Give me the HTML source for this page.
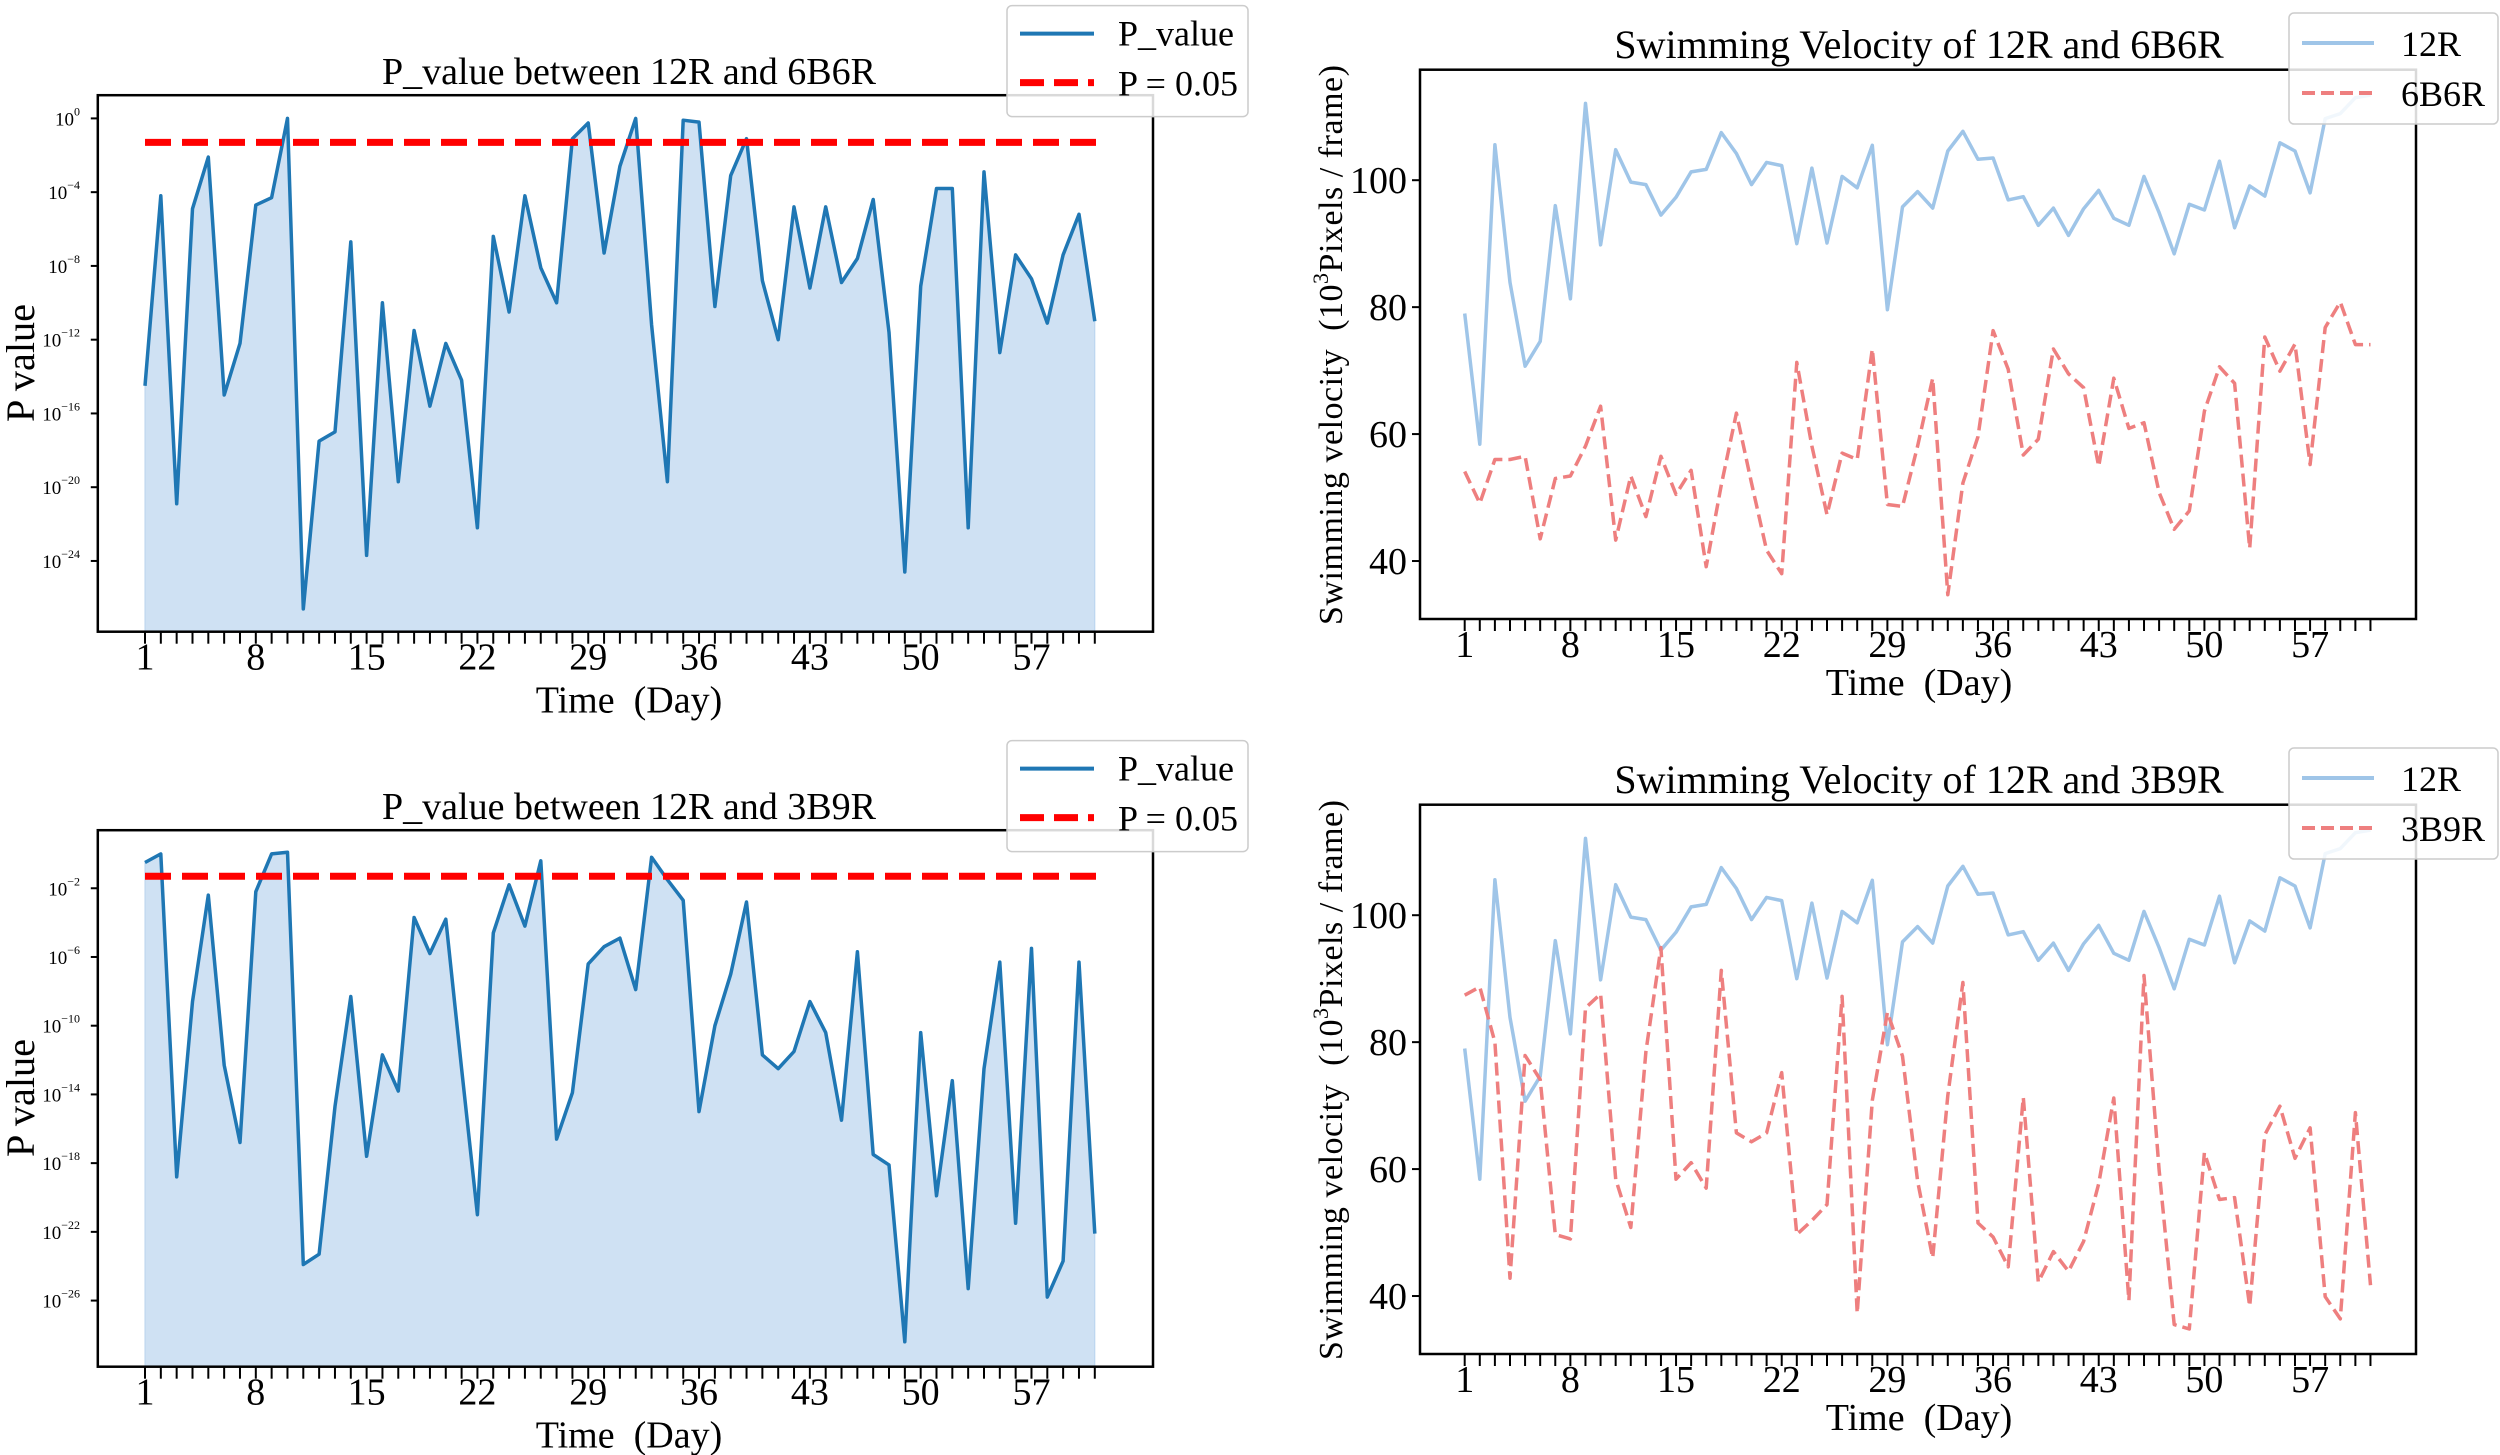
<!DOCTYPE html>
<html><head><meta charset="utf-8"><style>
html,body{margin:0;padding:0;background:#fff;}
svg{display:block;font-family:"Liberation Serif",serif;}
</style></head><body>
<svg id="s" width="2500" height="1455" viewBox="0 0 2500 1455" xmlns="http://www.w3.org/2000/svg"></svg>
<script>
const P1=[-14.5,-4.2,-20.9,-4.9,-2.1,-15,-12.2,-4.7,-4.3,0,-26.6,-17.5,-17,-6.7,-23.7,-10,-19.7,-11.5,-15.6,-12.2,-14.2,-22.2,-6.4,-10.5,-4.2,-8.1,-10,-1.1,-0.25,-7.3,-2.6,0,-11.2,-19.7,-0.1,-0.2,-10.2,-3.1,-1.1,-8.8,-12,-4.8,-9.2,-4.8,-8.9,-7.6,-4.4,-11.6,-24.6,-9.1,-3.8,-3.8,-22.2,-2.9,-12.7,-7.4,-8.7,-11.1,-7.4,-5.2,-11];
const P2=[-0.5,0,-18.8,-8.6,-2.4,-12.3,-16.8,-2.2,0,0.1,-23.9,-23.3,-14.7,-8.3,-17.6,-11.7,-13.8,-3.7,-5.8,-3.8,-12.5,-21,-4.6,-1.8,-4.2,-0.4,-16.6,-13.9,-6.4,-5.4,-4.9,-7.9,-0.2,-1.5,-2.7,-15,-10,-7,-2.8,-11.7,-12.5,-11.5,-8.6,-10.4,-15.5,-5.7,-17.5,-18.1,-28.4,-10.4,-19.9,-13.2,-25.3,-12.5,-6.3,-21.5,-5.5,-25.8,-23.7,-6.3,-22.1];
const R12=[79,58.4,105.6,83.9,70.7,74.6,96,81.3,112.1,89.8,104.8,99.7,99.3,94.5,97.3,101.3,101.7,107.5,104.2,99.3,102.8,102.3,90,101.9,90.1,100.6,98.8,105.5,79.6,95.8,98.2,95.6,104.6,107.7,103.3,103.5,96.9,97.4,92.9,95.6,91.3,95.5,98.4,94,92.9,100.6,94.9,88.4,96.2,95.3,103,92.5,99.1,97.5,105.9,104.6,98,109.7,110.5,113,113.4];
const B6=[54.1,49.1,56,56,56.5,43.5,53,53.4,58.1,64.4,43.3,53.4,47,56.5,50.5,54.3,39.1,52,63.3,52.3,41.7,38,71.3,58.1,47.3,57,56,73.4,48.9,48.6,58.1,68.8,34.7,52.3,59.6,76.3,70.2,56.7,59.2,73.4,69.5,67.3,54.9,68.8,60.9,61.8,50.8,45,47.9,63.6,70.6,68,42,75.3,69.9,74.2,55.2,76.8,80.8,74.1,74.1];
const B9=[87.4,88.7,80,42.8,77.9,74.1,49.7,49,85.4,87.6,58.4,50.8,78.5,94.9,58.4,61,57,91.3,65.7,64.3,65.7,75.2,49.7,51.9,54.4,87.2,37.3,70.8,84.7,77.8,58.1,46,71.6,89.4,51.5,49.3,44.6,71.3,42.2,47,43.9,48.6,57.7,71.2,39.3,90.5,59.9,35.5,34.8,62.6,55.2,55.5,38.4,65.4,69.9,61.7,66.5,39.9,36.4,68.9,41.7];
let h='';
function txt(x,y,s,size,anchor,extra){h+=`<text x="${x}" y="${y}" font-size="${size}" text-anchor="${anchor||'middle'}" ${extra||''}>${s}</text>`;}
function xaxis(x0,dx,yb,labY,xlY,xlabel){
  for(let d=1;d<=61;d++){const x=x0+(d-1)*dx;h+=`<line x1="${x}" y1="${yb}" x2="${x}" y2="${yb+12}" stroke="#000" stroke-width="2"/>`;}
  for(let d=1;d<=57;d+=7){txt(x0+(d-1)*dx,labY,d,38);}
  txt(xlabel[0],xlY,'Time&#160;&#160;(Day)',38);
}
function pPanel(oy,data,top0,dec,tickStart,title){
  const L=97.8,R=1153,T=95.2+oy,B=631.7+oy;const x0=145,dx=15.83;
  const X=d=>x0+d*dx, Y=e=>top0+(-e)*dec;
  let pts=data.map((e,i)=>X(i).toFixed(1)+','+Y(e).toFixed(1)).join(' ');
  h+=`<polygon points="${X(0)},${B} ${pts} ${X(60)},${B}" fill="#cfe1f3" stroke="#b8d3ee" stroke-width="1"/>`;
  h+=`<polyline points="${pts}" fill="none" stroke="#1f77b4" stroke-width="3.5" stroke-linejoin="round"/>`;
  const yd=Y(-1.3);
  h+=`<line x1="145" y1="${yd}" x2="1106" y2="${yd}" stroke="#ff0000" stroke-width="7" stroke-dasharray="26,11"/>`;
  h+=`<rect x="${L}" y="${T}" width="${R-L}" height="${B-T}" fill="none" stroke="#000" stroke-width="2.5"/>`;
  for(let e=tickStart;e>=-26;e-=4){const y=Y(e);if(y>B)break;
    h+=`<line x1="${L-7}" y1="${y}" x2="${L}" y2="${y}" stroke="#000" stroke-width="2"/>`;
    h+=`<text x="80" y="${y+7}" font-size="19" text-anchor="end">10<tspan font-size="12" dy="-10">${e===0?'0':'&#8722;'+(-e)}</tspan></text>`;}
  xaxis(x0,dx,B,B+38,B+81,[629]);
  txt(629,T-11,title,38);
  h+=`<text transform="translate(34,${363+oy}) rotate(-90)" font-size="40" text-anchor="middle" textLength="118" lengthAdjust="spacingAndGlyphs">P value</text>`;
  const ly=5.6+oy;
  h+=`<rect x="1007" y="${ly}" width="241" height="111" rx="5" fill="#fff" fill-opacity="0.85" stroke="#ccc" stroke-width="1.5"/>`;
  h+=`<line x1="1020" y1="${ly+28}" x2="1094" y2="${ly+28}" stroke="#1f77b4" stroke-width="4"/>`;
  h+=`<line x1="1020" y1="${ly+77}" x2="1094" y2="${ly+77}" stroke="#ff0000" stroke-width="7" stroke-dasharray="24,10"/>`;
  txt(1118,ly+40,'P_value',36,'start');
  txt(1118,ly+90,'P = 0.05',36,'start');
}
function vPanel(oy,other,name,title){
  const L=1420,R=2416,T=69.7+oy,B=619+oy;const x0=1464.7,dx=15.096;
  const y100=180.2+oy,k=6.347;
  const X=i=>x0+i*dx,Y=v=>y100-(v-100)*k;
  const p1=R12.map((v,i)=>X(i).toFixed(1)+','+Y(v).toFixed(1)).join(' ');
  const p2=other.map((v,i)=>X(i).toFixed(1)+','+Y(v).toFixed(1)).join(' ');
  h+=`<polyline points="${p1}" fill="none" stroke="#9fc5e8" stroke-width="3.5" stroke-linejoin="round"/>`;
  h+=`<polyline points="${p2}" fill="none" stroke="#ee7f7f" stroke-width="3.5" stroke-dasharray="13,6" stroke-linejoin="round"/>`;
  h+=`<rect x="${L}" y="${T}" width="${R-L}" height="${B-T}" fill="none" stroke="#000" stroke-width="2.5"/>`;
  for(const v of [40,60,80,100]){const y=Y(v);
    h+=`<line x1="${L-8}" y1="${y}" x2="${L}" y2="${y}" stroke="#000" stroke-width="2"/>`;
    txt(1407,y+13,v,38,'end');}
  xaxis(x0,dx,B,B+38,B+76,[1919]);
  txt(1919,58+oy,title,40);
  h+=`<text transform="translate(1342,${345+oy}) rotate(-90)" font-size="34" text-anchor="middle" textLength="560" lengthAdjust="spacing">Swimming velocity&#160;&#160;(10<tspan font-size="22" dy="-14">3</tspan><tspan dy="14">Pixels / frame)</tspan></text>`;
  const ly=13+oy;
  h+=`<rect x="2289" y="${ly}" width="209" height="111" rx="5" fill="#fff" fill-opacity="0.85" stroke="#ccc" stroke-width="1.5"/>`;
  h+=`<line x1="2302" y1="${ly+30}" x2="2374" y2="${ly+30}" stroke="#9fc5e8" stroke-width="4"/>`;
  h+=`<line x1="2302" y1="${ly+80}" x2="2374" y2="${ly+80}" stroke="#ee7f7f" stroke-width="4" stroke-dasharray="13,6"/>`;
  txt(2401,ly+43,'12R',36,'start');
  txt(2401,ly+93,name,36,'start');
}
pPanel(0,P1,118.4,18.44,0,'P_value between 12R and 6B6R');
pPanel(735,P2,853.9,17.18,-2,'P_value between 12R and 3B9R');
vPanel(0,B6,'6B6R','Swimming Velocity of 12R and 6B6R');
vPanel(735,B9,'3B9R','Swimming Velocity of 12R and 3B9R');
document.getElementById('s').innerHTML=h;
</script>
</body></html>
